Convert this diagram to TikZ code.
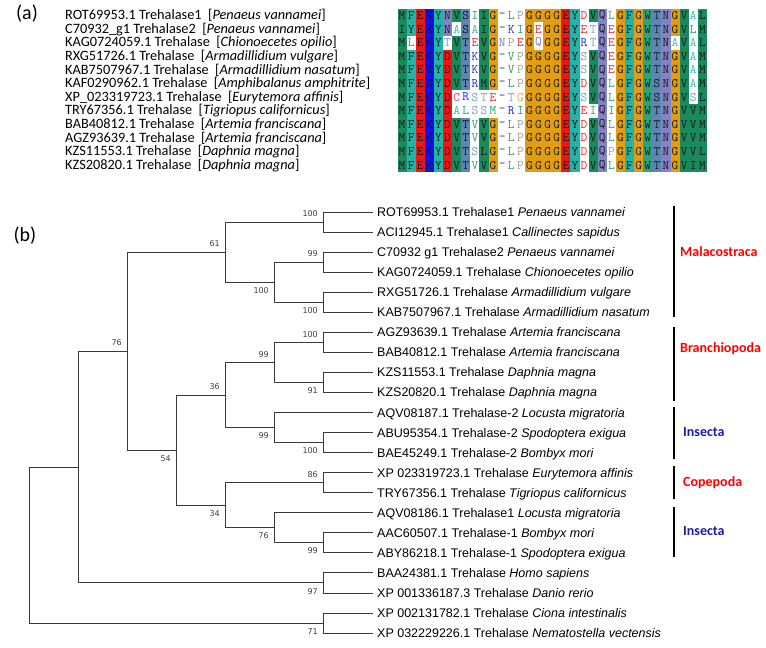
\documentclass[tikz,border=0pt]{standalone}
\usepackage{fontspec}
\setmainfont{Liberation Sans}
\newfontfamily\namefont{Carlito}
\newfontfamily\bootfont{DejaVu Sans}
\usetikzlibrary{positioning, calc}
\definecolor{TreeLine}{HTML}{3A3A3A}
\definecolor{BootGray}{HTML}{404040}
\definecolor{CladeRed}{HTML}{FF0000}
\definecolor{CladeBlue}{HTML}{1C1CA8}
\definecolor{ResGreen}{HTML}{188A5B}
\definecolor{ResTrp}{HTML}{2EA377}
\definecolor{ResTeal}{HTML}{22B4A6}
\definecolor{ResRed}{HTML}{F01515}
\definecolor{ResBlue}{HTML}{1212E6}
\definecolor{ResLav}{HTML}{8383C6}
\definecolor{ResSlate}{HTML}{5B87B6}
\definecolor{ResOrange}{HTML}{E29D12}
\definecolor{TxtGreen}{HTML}{2E9E6E}
\definecolor{TxtTeal}{HTML}{33C2B2}
\definecolor{TxtRed}{HTML}{E82828}
\definecolor{TxtPink}{HTML}{E03A5A}
\definecolor{TxtBlue}{HTML}{2A2AE0}
\definecolor{TxtSlate}{HTML}{7C9AC8}
\definecolor{TxtLav}{HTML}{7676C6}
\definecolor{TxtOrange}{HTML}{E2A030}
\definecolor{TxtGray}{HTML}{A0A0A0}
\definecolor{TxtGap}{HTML}{404040}

% residue -> background colour / text colour
\newcommand\setres[3]{\expandafter\def\csname alnbg#1\endcsname{#2}\expandafter\def\csname alnfg#1\endcsname{#3}}
\setres{M}{ResGreen}{TxtGreen}
\setres{I}{ResGreen}{TxtGreen}
\setres{L}{ResGreen}{TxtGreen}
\setres{V}{ResGreen}{TxtGreen}
\setres{W}{ResTrp}{TxtGreen}
\setres{F}{ResTeal}{TxtTeal}
\setres{Y}{ResTeal}{TxtTeal}
\setres{A}{ResTeal}{TxtTeal}
\setres{E}{ResRed}{TxtRed}
\setres{D}{ResRed}{TxtRed}
\setres{C}{ResRed}{TxtPink}
\setres{K}{ResBlue}{TxtBlue}
\setres{R}{ResBlue}{TxtBlue}
\setres{N}{ResLav}{TxtLav}
\setres{Q}{ResLav}{TxtLav}
\setres{S}{ResSlate}{TxtSlate}
\setres{T}{ResSlate}{TxtSlate}
\setres{G}{ResOrange}{TxtOrange}
\setres{P}{ResOrange}{TxtGray}
\setres{-}{white}{TxtGap}

% one alignment row: pairs of residue + b (coloured box) or w (coloured letter)
\newcount\alncol
\newcommand\alnrow[2]{\def\alnrowno{#1}\global\alncol=0 \alnparse#2\relax\relax}
\def\alnparse#1#2{\ifx\relax#1\let\alnnext\relax\else\def\alnnext{\alncell{#1}{#2}\alnparse}\fi\alnnext}
\def\alncell#1#2{%
  \global\advance\alncol by 1
  \pgfmathsetmacro\alnx{397.5+9.1*(\the\alncol-0.5)}%
  \pgfmathsetmacro\alny{8.7+13.6*(\alnrowno-0.5)}%
  \edef\alnbg{\csname alnbg#1\endcsname}%
  \edef\alnfg{\csname alnfg#1\endcsname}%
  \edef\alnname{r\alnrowno c\the\alncol}%
  \if b#2%
    \fill[fill=\alnbg] (\alnx-4.55,\alny-6.8) rectangle (\alnx+4.55,\alny+6.8);
    \node[res] (\alnname) at (\alnx,\alny) {#1};
  \else
    \node[res, text=\alnfg] (\alnname) at (\alnx,\alny) {#1};
  \fi}

\begin{document}
\begin{tikzpicture}[x=1pt, y=-1pt,
        branch/.style={draw=TreeLine, line width=0.9pt},
        leaf/.style={anchor=west, inner xsep=4pt, inner ysep=0pt, text height=9pt, text depth=0pt, font=\fontsize{12.5}{14}\selectfont, text=black},
        boot/.style={inner sep=0pt, font=\bootfont\fontsize{8}{9}\selectfont, text=BootGray},
        bootup/.style={boot, anchor=south east, xshift=-5pt, yshift=5pt},
        bootdown/.style={boot, anchor=north east, xshift=-5pt, yshift=-5pt},
        clade/.style={anchor=west, inner sep=0pt, font=\namefont\bfseries\fontsize{14}{16}\selectfont},
        cladebar/.style={line width=1.6pt, black},
        seqname/.style={anchor=west, inner sep=0pt, font=\namefont\fontsize{14.3}{16}\selectfont, text=black},
        res/.style={inner sep=0pt, font=\ttfamily\fontsize{13}{13}\selectfont, text=black!90},
        panel/.style={inner sep=0pt, font=\namefont\fontsize{20}{22}\selectfont}
      ]
        \fill[white] (0,0) rectangle (766,648);
        \useasboundingbox (0,0) rectangle (766,648);

        % (a) sequence names
        \node[panel] (pa) at (27,14) {(a)};
        \foreach \i/\acc/\sp in {1/ROT69953.1 Trehalase1/Penaeus vannamei,
            2/C70932\_g1 Trehalase2/Penaeus vannamei,
            3/KAG0724059.1 Trehalase/Chionoecetes opilio,
            4/RXG51726.1 Trehalase/Armadillidium vulgare,
            5/KAB7507967.1 Trehalase/Armadillidium nasatum,
            6/KAF0290962.1 Trehalase/Amphibalanus amphitrite,
            7/XP\_023319723.1 Trehalase/Eurytemora affinis,
            8/TRY67356.1 Trehalase/Tigriopus californicus,
            9/BAB40812.1 Trehalase/Artemia franciscana,
            10/AGZ93639.1 Trehalase/Artemia franciscana,
            11/KZS11553.1 Trehalase/Daphnia magna,
            12/KZS20820.1 Trehalase/Daphnia magna}
          \node[seqname] (s\i) at (65,{15.5+13.6*(\i-1)}) {\acc\ \ [\textit{\sp}]};

        % (a) alignment
        \alnrow{1}{MbFbEbKbYbNbVbSbIwIbGb-wLwPwGbGbGbGbEbYbDwVbQbLwGbFbGbWbTbNbGbVbAwLb}
        \alnrow{2}{IbYbEbKbYbNbAwSbAwIbGb-wKwIwGbEwGbGbEbYbEwTwQbEwGbFbGbWbTbNbGbVbLwMb}
        \alnrow{3}{MbLwEbKbYbTwVbTbEwVbGbNwPwEwGbQwGbGbEbYbRwTwQbEwGbFbGbWbTbNbAwVbAwLb}
        \alnrow{4}{MbFbEbKbYbDbVbTbKwVbGb-wVwPwGbGbGbGbEbYbSwVbQbEwGbFbGbWbTbNbGbVbAwMb}
        \alnrow{5}{MbFbEbKbYbDbVbTbKwVbGb-wVwPwGbGbGbGbEbYbSwVbQbEwGbFbGbWbTbNbGbVbAwMb}
        \alnrow{6}{MbFbEbKbYbDbVbTbRwMbGb-wLwPwGbGbGbGbEbYbDwVbQbLwGbFbGbWbSbNbGbVbAwMb}
        \alnrow{7}{MbFbEbKbYbDbCwRwSwTwEw-wTwGwGbGbGbGbEbYbSwVbQbLwGbFbGbWbSbNbGbVbSwLb}
        \alnrow{8}{MbFbEbKbYbDbAwLwSwSwMw-wRwIwGbGbGbGbEbYbEwIwQbIwGbFbGbWbTbNbGbVbVbMb}
        \alnrow{9}{MbFbEbKbYbDbVbTbVwVbGb-wLwPwGbGbGbGbEbYbDwVbQbLwGbFbGbWbTbNbGbVbVbMb}
        \alnrow{10}{MbFbEbKbYbDbVbTbVwVbGb-wLwPwGbGbGbGbEbYbDwVbQbLwGbFbGbWbTbNbGbVbVbMb}
        \alnrow{11}{MbFbEbKbYbDbVbTbSwLbGb-wLwPwGbGbGbGbEbYbDwVbQbPwGbFbGbWbTbNbGbVbVbLb}
        \alnrow{12}{MbFbEbKbYbDbVbTbVwVbGb-wLwPwGbGbGbGbEbYbDwVbQbLwGbFbGbWbTbNbGbVbIbMb}

        % (b) leaves
        \node[panel] (pb) at (25,236) {(b)};
        \foreach \i/\acc/\sp in {1/ROT69953.1 Trehalase1/Penaeus vannamei,
            2/ACI12945.1 Trehalase1/Callinectes sapidus,
            3/C70932 g1 Trehalase2/Penaeus vannamei,
            4/KAG0724059.1 Trehalase/Chionoecetes opilio,
            5/RXG51726.1 Trehalase/Armadillidium vulgare,
            6/KAB7507967.1 Trehalase/Armadillidium nasatum,
            7/AGZ93639.1 Trehalase/Artemia franciscana,
            8/BAB40812.1 Trehalase/Artemia franciscana,
            9/KZS11553.1 Trehalase/Daphnia magna,
            10/KZS20820.1 Trehalase/Daphnia magna,
            11/AQV08187.1 Trehalase-2/Locusta migratoria,
            12/ABU95354.1 Trehalase-2/Spodoptera exigua,
            13/BAE45249.1 Trehalase-2/Bombyx mori,
            14/XP 023319723.1 Trehalase/Eurytemora affinis,
            15/TRY67356.1 Trehalase/Tigriopus californicus,
            16/AQV08186.1 Trehalase1/Locusta migratoria,
            17/AAC60507.1 Trehalase-1/Bombyx mori,
            18/ABY86218.1 Trehalase-1/Spodoptera exigua,
            19/BAA24381.1 Trehalase/Homo sapiens,
            20/XP 001336187.3 Trehalase/Danio rerio,
            21/XP 002131782.1 Trehalase/Ciona intestinalis,
            22/XP 032229226.1 Trehalase/Nematostella vectensis}
          \node[leaf] (l\i) at (373,{212+20.05*(\i-1)}) {\acc\ \textit{\sp}};

        % (b) inner nodes
        \coordinate (penCal) at (323,222.03);
        \coordinate (penChi) at (323,262.13);
        \coordinate (armad) at (323,302.23);
        \coordinate (penArm) at (274,282.18);
        \coordinate (malaco) at (225,252.1);
        \coordinate (artemia) at (323,342.33);
        \coordinate (daphnia) at (323,382.43);
        \coordinate (branch) at (274,362.38);
        \coordinate (spoBom) at (323,442.58);
        \coordinate (insTwo) at (274,427.54);
        \coordinate (branIns) at (225,394.96);
        \coordinate (copepod) at (323,482.68);
        \coordinate (bomSpo) at (323,542.83);
        \coordinate (insOne) at (274,527.79);
        \coordinate (copIns) at (225,505.23);
        \coordinate (panc) at (176,450.1);
        \coordinate (arthro) at (127,351.1);
        \coordinate (vert) at (323,582.93);
        \coordinate (bilat) at (78,467.01);
        \coordinate (basal) at (323,623.03);
        \coordinate (root) at (29,545.02);

        % Connections
        \foreach \p/\c in {penCal/l1, penCal/l2, penChi/l3, penChi/l4, armad/l5, armad/l6,
            penArm/penChi, penArm/armad, malaco/penCal, malaco/penArm,
            artemia/l7, artemia/l8, daphnia/l9, daphnia/l10, branch/artemia, branch/daphnia,
            spoBom/l12, spoBom/l13, insTwo/l11, insTwo/spoBom, branIns/branch, branIns/insTwo,
            copepod/l14, copepod/l15, bomSpo/l17, bomSpo/l18, insOne/l16, insOne/bomSpo,
            copIns/copepod, copIns/insOne, panc/branIns, panc/copIns,
            arthro/malaco, arthro/panc, vert/l19, vert/l20, bilat/arthro, bilat/vert,
            basal/l21, basal/l22, root/bilat, root/basal}
          \draw[branch] (\p) |- (\c);

        % Bootstrap values
        \node[bootup] (bPenCal) at (penCal) {100};
        \node[bootup] (bPenChi) at (penChi) {99};
        \node[bootdown] (bArmad) at (armad) {100};
        \node[bootdown] (bPenArm) at (penArm) {100};
        \node[bootup] (bMalaco) at (malaco) {61};
        \node[bootup] (bArtemia) at (artemia) {100};
        \node[bootdown] (bDaphnia) at (daphnia) {91};
        \node[bootup] (bBranch) at (branch) {99};
        \node[bootdown] (bSpoBom) at (spoBom) {100};
        \node[bootdown] (bInsTwo) at (insTwo) {99};
        \node[bootup] (bBranIns) at (branIns) {36};
        \node[bootup] (bCopepod) at (copepod) {86};
        \node[bootdown] (bBomSpo) at (bomSpo) {99};
        \node[bootdown] (bInsOne) at (insOne) {76};
        \node[bootdown] (bCopIns) at (copIns) {34};
        \node[bootdown] (bPanc) at (panc) {54};
        \node[bootup] (bArthro) at (arthro) {76};
        \node[bootdown] (bVert) at (vert) {97};
        \node[bootdown] (bBasal) at (basal) {71};

        % Groups
        \draw[cladebar] (674,206) -- (674,317);
        \draw[cladebar] (674,327) -- (674,401);
        \draw[cladebar] (674,407) -- (674,459);
        \draw[cladebar] (674,466) -- (674,499);
        \draw[cladebar] (674,507) -- (674,557);
        \node[clade, text=CladeRed] (malacostraca) at (680,252) {Malacostraca};
        \node[clade, text=CladeRed] (branchiopoda) at (680,349) {Branchiopoda};
        \node[clade, text=CladeBlue] (insectaA) at (683,432) {Insecta};
        \node[clade, text=CladeRed] (copepoda) at (683,483) {Copepoda};
        \node[clade, text=CladeBlue] (insectaB) at (683,531) {Insecta};
      \end{tikzpicture}
\end{document}
